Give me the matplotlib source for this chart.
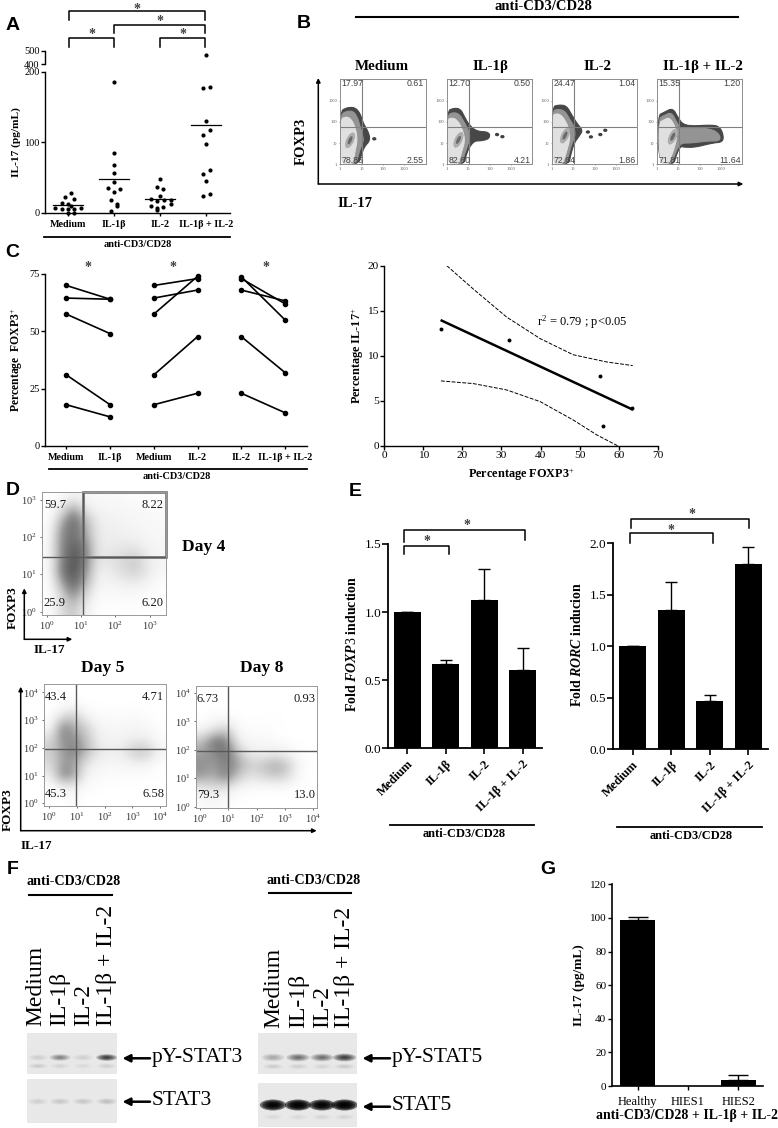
import matplotlib
matplotlib.use("Agg")
import matplotlib.pyplot as plt
from matplotlib.patches import Ellipse, Polygon, Rectangle
import numpy as np

plt.rcParams["font.family"] = ["Liberation Serif", "DejaVu Serif"]
plt.rcParams["mathtext.fontset"] = "custom"
plt.rcParams["mathtext.rm"] = "Liberation Serif"
plt.rcParams["mathtext.it"] = "Liberation Serif:italic:bold"
plt.rcParams["mathtext.bf"] = "Liberation Serif:bold"

W, H = 778, 1128
COMBO = "IL-1\u03b2 + IL-2"
BETA = "IL-1\u03b2"
TREATMENTS = ["Medium", BETA, "IL-2", COMBO]
ANTI = "anti-CD3/CD28"

# panel A
a_medium_x = [0.06, -0.06, 0.13, -0.14, 0, 0.06, -0.29, -0.13, 0, 0.28, 0.12, -0.01, 0.12]
a_medium_y = [28, 22, 19, 14, 12, 9.5, 6, 5, 5, 6, 5, 0, 0]
a_beta_x = [0, 0, 0, 0, 0, -0.14, 0.14, 0, -0.07, 0.07, 0.07, -0.07]
a_beta_y = [185, 85, 68, 56.5, 43, 35.5, 34, 29, 18, 12, 9.5, 3]
a_il2_x = [0, -0.06, 0.07, 0, -0.2, -0.06, 0.08, 0.23, 0.23, -0.2, -0.06, 0.07, -0.06]
a_il2_y = [48, 37, 33.5, 23, 19, 16.5, 18, 18, 12, 9.5, 6, 7.5, 4]
a_combo_x = [0.09, -0.07, 0, 0.08, -0.06, 0, 0.08, -0.06, 0, 0.08, -0.07]
a_combo_y = [178, 177, 130, 117, 110, 98, 61, 55.5, 45, 26.5, 23]
a_combo_top = 465
a_means = [11, 48, 20, 124]

# panel B, outlines in decades of the log axes
b_names = TREATMENTS
b_numbers = [
    ["17.97", "0.61", "78.86", "2.55"],
    ["12.70", "0.50", "82.60", "4.21"],
    ["24.47", "1.04", "72.64", "1.86"],
    ["15.35", "1.20", "71.81", "11.64"],
]
b_outer = [
    [(0, 2.48), (.31, 2.67), (.7, 2.68), (.94, 2.4), (1.09, 1.92), (1.33, 1.52), (1.41, 1.13), (1.13, .81), (1.02, .49), (.86, 0), (0, 0)],
    [(0, 2.5), (.35, 2.65), (.65, 2.6), (.85, 2.2), (1.05, 1.85), (1.4, 1.55), (2.0, 1.52), (2.0, 1.2), (1.6, 1.1), (1.3, 1.1), (1.05, .8), (.9, .4), (.8, 0), (0, 0)],
    [(0, 2.7), (.35, 2.8), (.7, 2.75), (.95, 2.3), (1.2, 1.9), (1.45, 1.6), (1.3, 1.35), (1.05, 1.0), (.9, .5), (.8, 0), (0, 0)],
    [(.05, 2.3), (.35, 2.45), (.75, 2.65), (1.0, 2.2), (1.2, 1.9), (1.6, 1.8), (2.5, 1.85), (2.9, 1.8), (3.1, 1.45), (3.1, 1.05), (2.6, 1.0), (1.8, .8), (1.3, .8), (1.1, .85), (.9, .4), (.8, 0), (.1, 0)],
]
b_mid = [
    [(0, 2.3), (.3, 2.5), (.62, 2.5), (.82, 2.2), (.93, 1.8), (1.05, 1.4), (1.1, 1.1), (.95, .75), (.85, .4), (.75, 0), (0, 0)],
    [(0, 2.3), (.33, 2.45), (.6, 2.35), (.8, 2.0), (1.0, 1.65), (1.1, 1.3), (.95, .8), (.8, .4), (.72, 0), (0, 0)],
    [(0, 2.5), (.33, 2.6), (.62, 2.5), (.85, 2.1), (1.05, 1.75), (1.1, 1.35), (.95, 1.0), (.8, .5), (.7, 0), (0, 0)],
    [(.08, 2.15), (.35, 2.3), (.68, 2.45), (.9, 2.05), (1.1, 1.7), (1.15, 1.7), (2.5, 1.7), (2.95, 1.4), (2.95, 1.1), (2.4, 1.1), (1.6, 1.0), (1.1, 1.0), (.85, .5), (.72, 0), (.12, 0)],
]
b_light = [
    [(0, 2.1), (.3, 2.25), (.55, 2.1), (.75, 1.6), (.8, 1.1), (.7, .6), (.65, .3), (.6, 0), (0, 0)],
    [(0, 2.1), (.3, 2.2), (.55, 2.0), (.75, 1.6), (.85, 1.1), (.7, .6), (.62, .3), (.55, 0), (0, 0)],
    [(0, 2.3), (.3, 2.4), (.55, 2.2), (.8, 1.7), (.85, 1.2), (.72, .7), (.6, .3), (.5, 0), (0, 0)],
    [(.1, 1.95), (.35, 2.1), (.6, 2.2), (.85, 1.8), (.95, 1.3), (.8, .7), (.65, .3), (.55, 0), (.15, 0)],
]
b_core_x = [.47, .55, .62, .75]
b_core_y = [1.13, 1.15, 1.35, 1.3]
b_spots = [
    [(1.6, 1.2)],
    [(2.35, 1.4), (2.6, 1.3)],
    [(1.69, 1.52), (1.83, 1.29), (2.27, 1.4), (2.5, 1.6)],
    [],
]

# panel C
c_med_beta = [[70, 64], [64.5, 64], [57.5, 49], [31, 18], [18, 12.7]]
c_med_il2 = [[70, 73], [64.5, 68], [57.5, 74], [31, 47.7], [18, 23]]
c_il2_combo = [[73.8, 55], [73, 62], [68, 63.3], [47.7, 32], [23, 14.5]]
c_labels = ["Medium", BETA, "Medium", "IL-2", "IL-2", COMBO]

# correlation panel
corr_x = [14.6, 32, 55.2, 56.1, 63.5]
corr_y = [13, 11.7, 7.8, 2.2, 4.2]
fit_x = [14.7, 63.4]
fit_y = [13.9, 4.05]
upper_x = [16, 22.8, 31.3, 39.9, 48.4, 57, 63.6]
upper_y = [20, 17.4, 14.3, 11.9, 10.1, 9.3, 8.9]
lower_x = [14.5, 22.8, 31.3, 39.9, 48.4, 54.4, 59.7]
lower_y = [7.2, 6.9, 6.2, 4.9, 2.85, 1.2, 0]

# panel D, darkness read per cell
day4 = [
    [0, .02, .1, .05, .03, .05, .03, .02, .02, .01],
    [0, .15, .45, .15, .08, .06, .06, .05, .04, .03],
    [0, .35, .6, .35, .12, .1, .08, .06, .05, .04],
    [.02, .45, .55, .4, .12, .12, .1, .08, .07, .05],
    [.03, .45, .6, .5, .12, .12, .15, .15, .08, .06],
    [.03, .45, .65, .5, .15, .18, .22, .28, .12, .08],
    [.02, .5, .65, .45, .1, .12, .2, .25, .15, .05],
    [0, .35, .6, .35, .07, .08, .1, .12, .06, .02],
    [0, .2, .45, .2, .03, .03, .04, .03, .02, 0],
    [0, .18, .3, .1, .01, .01, .01, .01, 0, 0],
]
day5 = [
    [0, 0, 0, 0, 0, 0, 0, 0, 0, 0],
    [0, 0, .02, 0, 0, 0, 0, 0, 0, 0],
    [0, .15, .25, .05, .03, .02, .02, .03, .01, 0],
    [.03, .5, .35, .25, .07, .06, .06, .07, .05, .01],
    [.2, .45, .45, .3, .1, .08, .08, .12, .1, .02],
    [.25, .4, .5, .35, .15, .12, .15, .3, .3, .08],
    [.2, .4, .4, .15, .08, .06, .06, .1, .08, .01],
    [.1, .5, .4, .07, .04, .03, .02, .02, .01, 0],
    [0, .08, .1, .02, .01, 0, 0, 0, 0, 0],
    [0, 0, .03, 0, 0, 0, 0, 0, 0, 0],
]
day8 = [
    [0, 0, 0, 0, 0, 0, 0, 0, 0, 0],
    [0, 0, 0, 0, 0, 0, 0, 0, 0, 0],
    [0, .02, .02, 0, 0, 0, .01, 0, 0, 0],
    [.05, .15, .25, .04, .02, .02, .01, 0, 0, 0],
    [.3, .55, .5, .1, .05, .05, .03, .01, 0, 0],
    [.4, .45, .55, .3, .12, .1, .12, .08, .02, 0],
    [.45, .4, .5, .4, .25, .3, .4, .3, .05, 0],
    [.4, .35, .5, .25, .15, .2, .25, .2, .03, 0],
    [.1, .15, .12, .04, .02, 0, 0, 0, 0, 0],
    [.03, .05, .03, 0, 0, 0, 0, 0, 0, 0],
]
day4_numbers = ["59.7", "8.22", "25.9", "6.20"]
day5_numbers = ["43.4", "4.71", "45.3", "6.58"]
day8_numbers = ["6.73", "0.93", "79.3", "13.0"]

# panel E
foxp3_vals = [1.0, 0.62, 1.09, 0.575]
foxp3_err = [0, 0.03, 0.23, 0.165]
rorc_vals = [1.0, 1.35, 0.47, 1.8]
rorc_err = [0, 0.27, 0.06, 0.16]

# panel F
stat3_upper = [.1, .42, .1, .7]
stat3_lower = [.12, .08, .06, .1]
stat3_total = [.1, .13, .13, .17]
stat5_upper = [.26, .5, .5, .7]
stat5_lower = [.11, .1, .08, .11]
stat5_total = [.97, .98, .97, .98]
stat5_faint = [.06, .05, .08, .07]

# panel G
g_labels = ["Healthy", "HIES1", "HIES2"]
g_vals = [98.5, 0, 3.5]
g_err = [1.8, 0, 3]

fig = plt.figure(figsize=(W / 100, H / 100), dpi=100)


def pixel_axes(x0, y0, x1, y1):
    return fig.add_axes([x0 / W, 1 - y1 / H, (x1 - x0) / W, (y1 - y0) / H])


def clean(ax, lw=1.0):
    ax.spines["top"].set_visible(False)
    ax.spines["right"].set_visible(False)
    ax.spines["left"].set_linewidth(lw)
    ax.spines["bottom"].set_linewidth(lw)
    ax.patch.set_alpha(0)


def rounded(points, passes=2):
    # corner cutting, so the hand-read outlines look like contours
    pts = np.array(points, dtype=float)
    for _ in range(passes):
        nxt = np.roll(pts, -1, axis=0)
        pts = np.column_stack([0.75 * pts + 0.25 * nxt, 0.25 * pts + 0.75 * nxt]).reshape(-1, 2)
    return pts


# A
ax = pixel_axes(45, 71.7, 230, 212.7)
clean(ax)
for i, (xs, ys) in enumerate([(a_medium_x, a_medium_y), (a_beta_x, a_beta_y), (a_il2_x, a_il2_y), (a_combo_x, a_combo_y)]):
    ax.scatter(np.array(xs) + i, ys, s=9, c="k", linewidths=0, clip_on=False, zorder=3)
    ax.plot([i - 0.33, i + 0.33], [a_means[i], a_means[i]], color="k", lw=0.9)
ax.set_xlim(-0.5, 3.52)
ax.set_ylim(0, 200)
ax.set_yticks([0, 100, 200])
ax.set_xticks(range(4))
ax.set_xticklabels(TREATMENTS, fontweight="bold", fontsize=7.3)
ax.tick_params(axis="y", labelsize=7.5, length=3, width=1, pad=1)
ax.tick_params(axis="x", length=2, width=1, pad=3)
ax.set_ylabel("IL-17 (pg/mL)", fontweight="bold", fontsize=8.2, labelpad=2)

ax = pixel_axes(45, 50.7, 230, 64)
clean(ax)
ax.spines["bottom"].set_visible(False)
ax.scatter([3], [a_combo_top], s=9, c="k", linewidths=0)
ax.set_xlim(-0.5, 3.52)
ax.set_ylim(400, 500)
ax.set_xticks([])
ax.set_yticks([400, 500])
ax.tick_params(axis="y", labelsize=7.5, length=3, width=1, pad=1)

# B
b_x0 = [340, 446.7, 551.7, 656.7]
for i in range(4):
    ax = pixel_axes(b_x0[i], 79.3, b_x0[i] + 85.7, 164.3)
    ax.add_patch(Polygon(rounded(b_outer[i]), fc="0.28", ec="0.28", lw=0.8))
    ax.add_patch(Polygon(rounded(b_mid[i]), fc="0.58", ec="0.58", lw=0.8))
    ax.add_patch(Polygon(rounded(b_light[i]), fc="0.88", ec="0.88", lw=0.8))
    ax.add_patch(Ellipse((b_core_x[i], b_core_y[i]), .36, .8, angle=-25, fc="0.68", ec="none"))
    ax.add_patch(Ellipse((b_core_x[i], b_core_y[i]), .16, .42, angle=-25, fc="0.42", ec="none"))
    for sx, sy in b_spots[i]:
        ax.add_patch(Ellipse((sx, sy), .2, .16, fc="0.25", ec="none"))
    ax.axvline(1.02, color="0.5", lw=0.8)
    ax.axhline(1.75, color="0.5", lw=0.8)
    ax.set_xlim(0, 4)
    ax.set_ylim(0, 4)
    ax.set_xticks([0, 1, 2, 3])
    ax.set_yticks([0, 1, 2, 3])
    ax.set_xticklabels(["1", "10", "100", "1000"])
    ax.set_yticklabels(["1", "10", "100", "1000"])
    ax.tick_params(labelsize=3.2, length=1, width=0.4, pad=1, colors="0.3")
    for s in ax.spines.values():
        s.set_color("0.55")
        s.set_linewidth(0.7)
    nums = b_numbers[i]
    ax.text(0.02, 0.95, nums[0], transform=ax.transAxes, fontsize=6.3, family="Liberation Sans", color="0.25", va="center")
    ax.text(0.98, 0.95, nums[1], transform=ax.transAxes, fontsize=6.3, family="Liberation Sans", color="0.25", va="center", ha="right")
    ax.text(0.02, 0.04, nums[2], transform=ax.transAxes, fontsize=6.3, family="Liberation Sans", color="0.25", va="center")
    ax.text(0.98, 0.04, nums[3], transform=ax.transAxes, fontsize=6.3, family="Liberation Sans", color="0.25", va="center", ha="right")

# C
ax = pixel_axes(45, 274, 306.7, 446)
clean(ax)
for j, pairs in enumerate([c_med_beta, c_med_il2, c_il2_combo]):
    for p in pairs:
        ax.plot([2 * j, 2 * j + 1], p, "-o", color="k", lw=1.2, ms=3, clip_on=False)
ax.set_xlim(-0.488, 5.495)
ax.set_ylim(0, 75)
ax.set_yticks([0, 25, 50, 75])
ax.set_xticks(range(6))
ax.set_xticklabels(c_labels, fontweight="bold", fontsize=7.3)
ax.tick_params(axis="y", labelsize=7.5, length=3, width=1, pad=1)
ax.tick_params(axis="x", length=2, width=1, pad=3)
ax.set_ylabel("Percentage  FOXP3$^{+}$", fontweight="bold", fontsize=8.4, labelpad=3)

# correlation
ax = pixel_axes(384.3, 265.7, 657.7, 445.7)
clean(ax)
ax.scatter(corr_x, corr_y, s=8, c="k", linewidths=0, zorder=3, clip_on=False)
ax.plot(fit_x, fit_y, color="k", lw=1.8)
ax.plot(upper_x, upper_y, color="k", lw=0.7, ls=(0, (4, 1.5)))
ax.plot(lower_x, lower_y, color="k", lw=0.7, ls=(0, (4, 1.5)))
ax.set_xlim(0, 70)
ax.set_ylim(0, 20)
ax.set_xticks(range(0, 71, 10))
ax.set_yticks(range(0, 21, 5))
ax.tick_params(labelsize=8.2, length=3, width=1, pad=1)
ax.set_xlabel("Percentage FOXP3$^{+}$", fontweight="bold", fontsize=8.8, labelpad=4)
ax.set_ylabel("Percentage IL-17$^{+}$", fontweight="bold", fontsize=8.8, labelpad=1)
ax.text(39.2, 13.7, "r$^{2}$ = 0.79 ; p<0.05", fontsize=9, va="center")


# D
def flow(box, grid, xlim, ylim, gate_x, gate_y, n):
    ax = pixel_axes(*box)
    ax.imshow(grid, cmap="Greys", vmin=0, vmax=0.85, extent=[xlim[0], xlim[1], ylim[0], ylim[1]],
              aspect="auto", interpolation="bicubic")
    ax.axvline(gate_x, color="0.35", lw=1)
    ax.axhline(gate_y, color="0.35", lw=1)
    ax.set_xlim(*xlim)
    ax.set_ylim(*ylim)
    ax.set_xticks(range(n))
    ax.set_yticks(range(n))
    labels = ["$\\mathregular{10^{%d}}$" % k for k in range(n)]
    ax.set_xticklabels(labels)
    ax.set_yticklabels(labels)
    ax.tick_params(labelsize=7.5, length=1.5, width=0.5, pad=2, colors="0.2")
    for s in ax.spines.values():
        s.set_color("0.6")
        s.set_linewidth(0.7)
    return ax


ax = flow((41.7, 491.7, 165.7, 615), day4, (-0.146, 3.47), (-0.09, 3.21), 1.07, 1.455, 4)
ax.add_patch(Rectangle((1.07, 1.455), 3.47 - 1.07, 3.21 - 1.455, fill=False, ec="0.5", lw=2, clip_on=False))
flow((44, 684, 165.7, 806), day5, (-0.19, 4.2), (-0.1, 4.3), 0.97, 1.95, 5)
flow((195.7, 686, 317.3, 807.7), day8, (-0.15, 4.15), (-0.04, 4.25), 0.99, 1.96, 5)


# E
def bars(box, vals, err, xlim, ylim, yticks, ylabel=None):
    ax = pixel_axes(*box)
    clean(ax, 1.3)
    x = np.arange(len(vals))
    ax.bar(x, vals, width=0.7, color="k")
    ax.errorbar(x, vals, yerr=[np.zeros(len(vals)), err], fmt="none", ecolor="k", elinewidth=1, capsize=4.5, capthick=1)
    ax.set_xlim(*xlim)
    ax.set_ylim(*ylim)
    ax.set_yticks(yticks)
    ax.set_xticks(x)
    return ax


ax = bars((388.3, 544, 541.7, 748.3), foxp3_vals, foxp3_err, (-0.5, 3.5), (0, 1.5), [0, 0.5, 1, 1.5])
ax.set_yticklabels(["0.0", "0.5", "1.0", "1.5"])
ax.set_xticklabels(TREATMENTS, rotation=45, ha="right", va="top", rotation_mode="anchor", fontweight="bold", fontsize=9)
ax.tick_params(axis="y", labelsize=9.5, length=4, width=1.2, pad=1)
ax.tick_params(axis="x", length=4, width=1.2, pad=3)

ax = bars((613.3, 543.3, 767.7, 749.3), rorc_vals, rorc_err, (-0.5, 3.5), (0, 2), [0, 0.5, 1, 1.5, 2])
ax.set_yticklabels(["0.0", "0.5", "1.0", "1.5", "2.0"])
ax.set_xticklabels(TREATMENTS, rotation=45, ha="right", va="top", rotation_mode="anchor", fontweight="bold", fontsize=9)
ax.tick_params(axis="y", labelsize=9.5, length=4, width=1.2, pad=1)
ax.tick_params(axis="x", length=4, width=1.2, pad=3)


# F
def blot(box):
    ax = pixel_axes(*box)
    ax.set_xlim(box[0], box[2])
    ax.set_ylim(box[3], box[1])
    ax.set_facecolor("0.91")
    ax.set_xticks([])
    ax.set_yticks([])
    for s in ax.spines.values():
        s.set_visible(False)
    return ax


def bands(ax, lanes, y, dark, w, h):
    for xc, d in zip(lanes, dark):
        a = 1 - (1 - d) ** 0.2
        for s in (1.1, 0.9, 0.7, 0.5, 0.3):
            ax.add_patch(Ellipse((xc, y), w * s, h * s, fc="k", ec="none", alpha=a))


left_lanes = [38, 60, 83, 106.7]
right_lanes = [273, 298, 322, 344.5]
ax = blot((26.7, 1033.3, 117.3, 1074))
bands(ax, left_lanes, 1057.5, stat3_upper, 19, 6)
bands(ax, left_lanes, 1066, stat3_lower, 18, 5)
ax = blot((26.7, 1079.3, 117.3, 1123.3))
bands(ax, left_lanes, 1101.5, stat3_total, 19, 6)
ax = blot((258.3, 1033.3, 356.7, 1074))
bands(ax, right_lanes, 1057.5, stat5_upper, 21, 7)
bands(ax, right_lanes, 1066.5, stat5_lower, 19, 5)
ax = blot((258.3, 1083.3, 356.7, 1126.7))
bands(ax, right_lanes, 1105, stat5_total, 24, 10)
bands(ax, right_lanes, 1117, stat5_faint, 18, 5)

# G
ax = pixel_axes(611.7, 884.3, 763.3, 1086)
clean(ax, 1.2)
x = np.arange(3)
ax.bar(x, g_vals, width=0.7, color="k")
ax.errorbar(x[[0, 2]], np.array(g_vals)[[0, 2]], yerr=[[0, 0], np.array(g_err)[[0, 2]]], fmt="none",
            ecolor="k", elinewidth=1, capsize=7, capthick=1)
ax.set_xlim(-0.52, 2.5)
ax.set_ylim(0, 120)
ax.set_yticks(range(0, 121, 20))
ax.set_xticks(x)
ax.set_xticklabels(g_labels, fontsize=9)
ax.tick_params(axis="y", labelsize=8, length=3, width=1, pad=1)
ax.tick_params(axis="x", length=3, width=1, pad=4)
ax.set_ylabel("IL-17 (pg/mL)", fontweight="bold", fontsize=9.5, labelpad=3)

# overlay in picture pixels for brackets, labels and stars
ov = fig.add_axes([0, 0, 1, 1], zorder=10)
ov.set_xlim(0, W)
ov.set_ylim(H, 0)
ov.axis("off")


def bracket(x0, x1, y, d0, d1):
    ov.plot([x0, x0, x1, x1], [d0, y, y, d1], color="k", lw=1.1)


def star(x, y):
    ov.text(x, y + 2.5, "*", fontsize=10, fontweight="bold", color="0.25", ha="center", va="center")


def bold(x, y, s, size, **kw):
    kw.setdefault("ha", "center")
    kw.setdefault("va", "center")
    ov.text(x, y, s, fontsize=size, fontweight="bold", **kw)


for letter, lx, ly in [("A", 12.7, 25), ("B", 304, 24), ("C", 12.7, 252.7), ("D", 12.7, 490.7),
                       ("E", 355, 491), ("F", 12.7, 870), ("G", 548, 870)]:
    bold(lx, ly, letter, 14, family="Liberation Sans")

# A
bracket(69.3, 205.3, 11, 20, 20)
bracket(114.3, 205.3, 25, 33.3, 33.3)
bracket(160.3, 205.3, 38.3, 46.7, 46.7)
bracket(69.3, 114.3, 38.3, 46.7, 46.7)
for sx, sy in [(137.3, 6.7), (159.7, 19), (183, 32.3), (92.3, 32.3)]:
    star(sx, sy)
ov.plot([44, 230], [236.7, 236.7], color="k", lw=1.3)
bold(138, 244.3, ANTI, 7.4)

# B
ov.plot([355.7, 737.7], [17.3, 17.3], color="k", lw=1.5)
bold(543, 6, ANTI, 10.5)
for tx, name in zip([382, 490, 598, 702.7], b_names):
    bold(tx, 66.7, name, 10.8)
arrow = dict(arrowstyle="-|>", color="k", lw=1.1, shrinkA=0, shrinkB=0, mutation_scale=6)
ov.annotate("", xy=(318.3, 78), xytext=(318.3, 184), arrowprops=arrow)
ov.annotate("", xy=(743.3, 184), xytext=(318.3, 184), arrowprops=arrow)
bold(301, 141.7, "FOXP3", 10.5, rotation=90)
bold(355, 203.3, "IL-17", 10.5)

# C
for sx in [87.7, 172.7, 265.7]:
    star(sx, 265)
ov.plot([49.3, 306.7], [469, 469], color="k", lw=1.3)
bold(176.7, 476.7, ANTI, 7.4)

# D
for (tx, ty), s in zip([(55, 505), (152.7, 505), (54.3, 602.7), (152.7, 602.7)], day4_numbers):
    ov.text(tx, ty, s, fontsize=9, ha="center", va="center", color="0.1")
for (tx, ty), s in zip([(56, 697.3), (152.7, 697.3), (56, 794), (153.7, 794)], day5_numbers):
    ov.text(tx, ty, s, fontsize=9, ha="center", va="center", color="0.1")
for (tx, ty), s in zip([(207.7, 699), (304.7, 699), (207.7, 795), (305.3, 795)], day8_numbers):
    ov.text(tx, ty, s, fontsize=9, ha="center", va="center", color="0.1")
bold(204, 546.7, "Day 4", 12.6)
bold(103, 667.7, "Day 5", 12.6)
bold(261.7, 667.7, "Day 8", 12.6)
ov.annotate("", xy=(24.3, 588.3), xytext=(24.3, 639.3), arrowprops=arrow)
ov.annotate("", xy=(72.3, 639.3), xytext=(24.3, 639.3), arrowprops=arrow)
bold(12.3, 608, "FOXP3", 9.5, rotation=90)
bold(49, 650, "IL-17", 9.5)
ov.annotate("", xy=(20.7, 686.7), xytext=(20.7, 830.7), arrowprops=arrow)
ov.annotate("", xy=(316.7, 830.7), xytext=(20.7, 830.7), arrowprops=arrow)
bold(7.5, 810, "FOXP3", 9.5, rotation=90)
bold(36.7, 845.7, "IL-17", 9.5)

# E
bold(352, 644.5, "Fold $\\mathit{FOXP3}$ induction", 10, rotation=90)
bold(576.7, 644, "Fold $\\mathit{RORC}$ inducion", 10, rotation=90)
bracket(404, 449, 546, 554.3, 554.3)
bracket(404, 525, 530, 541.7, 540)
star(426.7, 539.3)
star(466.7, 522.7)
bracket(630, 713.3, 533.3, 543.3, 543.3)
bracket(631, 749, 519.3, 528.3, 528.3)
star(671, 528.3)
star(692.3, 512.3)
ov.plot([390, 534.3], [825, 825], color="k", lw=1.3)
ov.plot([616.7, 761.7], [826.7, 826.7], color="k", lw=1.3)
bold(464, 834.3, ANTI, 8.9)
bold(691, 835.7, ANTI, 8.9)

# F
bold(74, 881.7, ANTI, 10.2)
bold(313.3, 880, ANTI, 10.2)
ov.plot([29.3, 112.3], [895.3, 895.3], color="k", lw=1.5)
ov.plot([268.7, 351], [892.7, 892.7], color="k", lw=1.5)
for tx, s in zip([36, 60, 83.3, 106.7], TREATMENTS):
    ov.text(tx, 1026, s, fontsize=17, rotation=90, ha="center", va="bottom")
for tx, s in zip([274, 298.3, 322.3, 345], TREATMENTS):
    ov.text(tx, 1028.5, s, fontsize=17, rotation=90, ha="center", va="bottom")
big = dict(arrowstyle="-|>", color="k", lw=1.8, shrinkA=0, shrinkB=0, mutation_scale=11)
for x0, y0, s in [(150, 1058.3, "pY-STAT3"), (150, 1101.7, "STAT3"), (390, 1058.3, "pY-STAT5"), (390, 1106.7, "STAT5")]:
    ov.annotate("", xy=(x0 - 27.5, y0), xytext=(x0, y0), arrowprops=big)
    ov.text(x0 + 2, y0 - 1, s, fontsize=15.5, ha="left", va="center")

# G
bold(687, 1116, ANTI + " + " + COMBO, 10)

fig.savefig("out.png", dpi=100)
